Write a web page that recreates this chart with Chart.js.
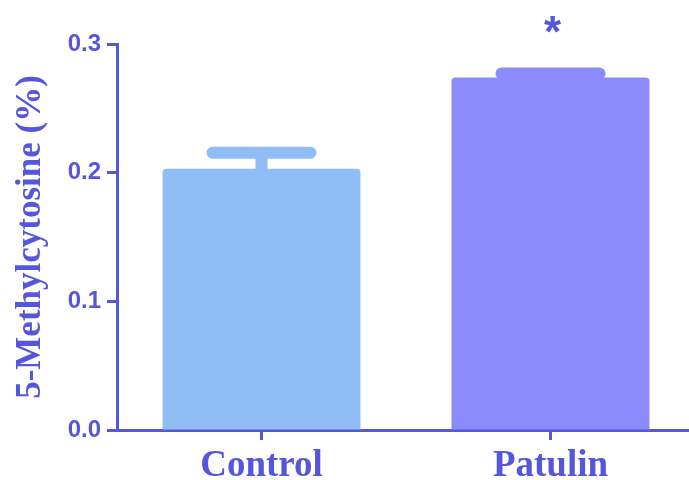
<!DOCTYPE html>
<html><head><meta charset="utf-8">
<script src="https://cdn.jsdelivr.net/npm/chart.js@4"></script>
<style>html,body{margin:0;padding:0;overflow:hidden;background:#fff}#wrap{width:695px;height:480px;position:relative}</style>
</head><body><div id="wrap"><canvas id="c"></canvas></div>
<script>
const categories = ['Control', 'Patulin'];
const means = [0.203, 0.274];
const errorUpper = [0.2155, 0.277];
const significance = ['', '*'];
const yTicks = [0, 0.1, 0.2, 0.3];
const barColors = ['#90bdf6', '#8b8bfd'];
const axisColor = '#5656dc';

const errorBarPlugin = {
  id: 'errorBars',
  afterDatasetsDraw(chart) {
    const ctx = chart.ctx, xs = chart.scales.x, ys = chart.scales.y;
    ctx.save();
    means.forEach((m, i) => {
      const x = xs.getPixelForValue(i);
      const yTop = ys.getPixelForValue(m);
      const yErr = ys.getPixelForValue(errorUpper[i]);
      ctx.fillStyle = barColors[i];
      ctx.strokeStyle = barColors[i];
      ctx.fillRect(x - 6, yErr, 12, yTop - yErr + 2);
      ctx.lineWidth = 12;
      ctx.lineCap = 'round';
      ctx.beginPath();
      ctx.moveTo(x - 49, yErr);
      ctx.lineTo(x + 49, yErr);
      ctx.stroke();
      if (significance[i]) {
        ctx.fillStyle = axisColor;
        ctx.font = 'bold 44px "Liberation Sans"';
        ctx.textAlign = 'center';
        ctx.textBaseline = 'alphabetic';
        ctx.fillText(significance[i], x + 2, yErr - 27);
      }
    });
    ctx.restore();
  }
};

new Chart(document.getElementById('c'), {
  type: 'bar',
  data: {
    labels: categories,
    datasets: [{
      data: means,
      backgroundColor: barColors,
      borderWidth: 0,
      borderRadius: 4,
      borderSkipped: 'bottom',
      barPercentage: 0.685,
      categoryPercentage: 1
    }]
  },
  options: {
    responsive: true,
    maintainAspectRatio: false,
    animation: false,
    layout: { padding: { top: 44, right: 0, left: 0, bottom: 0 } },
    plugins: { legend: { display: false }, tooltip: { enabled: false } },
    scales: {
      x: {
        afterFit: s => { s.height = 50; },
        grid: { display: true, drawOnChartArea: false, offset: false, tickLength: 10, tickWidth: 3, tickColor: axisColor },
        border: { display: true, color: axisColor, width: 3 },
        ticks: { color: axisColor, padding: 4, font: { family: '"Liberation Serif"', weight: 'bold', size: 37 } }
      },
      y: {
        min: 0, max: 0.3,
        afterFit: s => { s.width = 117; },
        afterBuildTicks: s => { s.ticks = yTicks.map(v => ({ value: v })); },
        grid: { display: true, drawOnChartArea: false, tickLength: 10, tickWidth: 3, tickColor: axisColor },
        border: { display: true, color: axisColor, width: 3 },
        ticks: { color: axisColor, padding: 6, callback: v => Number(v).toFixed(1), font: { family: '"Liberation Sans"', weight: 'bold', size: 24 } },
        title: { display: true, text: '5-Methylcytosine (%)', color: axisColor, padding: { top: 10, bottom: 0 }, font: { family: '"Liberation Serif"', weight: 'bold', size: 35 } }
      }
    }
  },
  plugins: [errorBarPlugin]
});
</script>
</body></html>
